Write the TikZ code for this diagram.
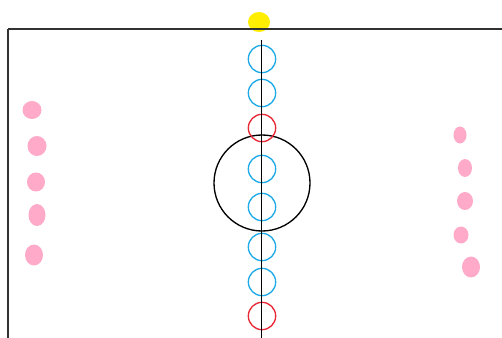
\documentclass[tikz,border=0pt]{standalone}
\usetikzlibrary{shapes.geometric}
\definecolor{pinkdot}{RGB}{255,170,200}
\definecolor{ringblue}{RGB}{30,170,230}
\definecolor{ringred}{RGB}{232,40,52}
\definecolor{bally}{RGB}{255,238,0}
\definecolor{fieldline}{RGB}{50,50,50}
\tikzset{
  player/.style={ellipse, fill=pinkdot, inner sep=0pt},
  blue ring/.style={circle, draw=ringblue, line width=1pt, inner sep=0pt, minimum size=20.5pt},
  red ring/.style={circle, draw=ringred, line width=1pt, inner sep=0pt, minimum size=20.5pt},
  ball/.style={ellipse, fill=bally, inner sep=0pt, minimum width=16.5pt, minimum height=15pt}
}
\begin{document}
\begin{tikzpicture}[x=0.75pt, y=-0.75pt]
        \useasboundingbox (0,0) rectangle (502,338);
        % ball on the half-way line
        \node[ball] (ball) at (259,22) {};
        % field boundary
        \coordinate (tl) at (8,29);
        \coordinate (tr) at (502,29);
        \coordinate (bl) at (8,338);
        \draw[fieldline, line width=1.5pt] (tl) -- (tr);
        \draw[fieldline, line width=1.1pt] (tl) -- (bl);
        % centre circle
        \node[circle, draw=black, line width=1pt, inner sep=0pt, minimum size=72pt] (centre) at (262,183) {};
        % rings along the half-way line
        \node[blue ring] (b1) at (262,59) {};
        \node[blue ring] (b2) at (262,93) {};
        \node[red ring]  (r1) at (262,128) {};
        \node[blue ring] (b3) at (262,169) {};
        \node[blue ring] (b4) at (262,207) {};
        \node[blue ring] (b5) at (262,247) {};
        \node[blue ring] (b6) at (262,282) {};
        \node[red ring]  (r2) at (262,316) {};
        % half-way line
        \coordinate (mtop) at (261.5,40);
        \coordinate (mbot) at (261.5,338);
        \draw[black, line width=1pt] (mtop) -- (mbot);
        % left team
        \node[player, minimum width=14.25pt, minimum height=13.5pt] (l1) at (32,110) {};
        \node[player, minimum width=14.25pt, minimum height=15pt] (l2) at (37,146) {};
        \node[player, minimum width=13.5pt, minimum height=14.25pt] (l3) at (36,182) {};
        \node[player, minimum width=12.75pt, minimum height=16.5pt] (l4) at (37,215) {};
        \node[player, minimum width=13.5pt, minimum height=15.75pt] (l5) at (34,255) {};
        % right team
        \node[player, minimum width=9.75pt, minimum height=12.75pt] (p1) at (460,135) {};
        \node[player, minimum width=10.5pt, minimum height=13.5pt] (p2) at (465,168) {};
        \node[player, minimum width=12pt, minimum height=13.5pt] (p3) at (465,201) {};
        \node[player, minimum width=11.25pt, minimum height=12.75pt] (p4) at (461,235) {};
        \node[player, minimum width=13.5pt, minimum height=15.75pt] (p5) at (471,267) {};
    \end{tikzpicture}
\end{document}
